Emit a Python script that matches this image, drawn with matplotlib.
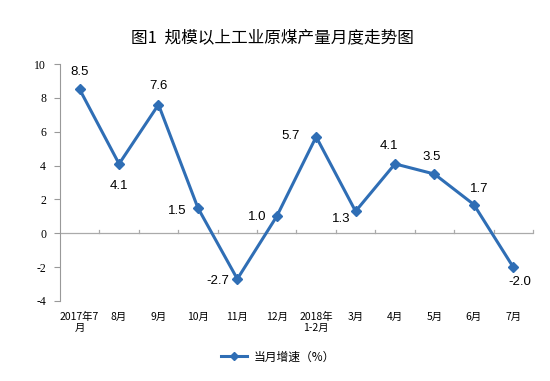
import matplotlib
matplotlib.use('Agg')
import matplotlib.pyplot as plt

plt.rcParams['font.family'] = ['Noto Sans CJK SC', 'DejaVu Sans']

months = ['2017年7\n月', '8月', '9月', '10月', '11月', '12月', '2018年\n1-2月',
          '3月', '4月', '5月', '6月', '7月']
growth = [8.5, 4.1, 7.6, 1.5, -2.7, 1.0, 5.7, 1.3, 4.1, 3.5, 1.7, -2.0]
# label offsets in image pixels (right, down) relative to each point
offsets = [(0, -17), (0, 22), (0, -19), (-21, 3), (-20, 2), (-20, 1),
           (-26, -1), (-14, 8), (-6, -18), (-3, -17), (5, -16), (7, 15)]

blue = '#2F6EB5'
fig = plt.figure(figsize=(5.5, 3.81), dpi=100)
ax = fig.add_axes([0.109, 0.210, 0.860, 0.622])
x = list(range(len(growth)))
ax.plot(x, growth, color=blue, lw=2.2, marker='D', ms=5, label='当月增速（%）')
for xi, v, (dx, dy) in zip(x, growth, offsets):
    ax.annotate('%.1f' % v, (xi, v), xytext=(dx * 0.72, -dy * 0.72),
                textcoords='offset points', ha='center', va='center',
                fontsize=9.5, family='Liberation Sans')

ax.set_xlim(-0.5, len(growth) - 0.5)
ax.set_ylim(-4, 10)
ax.set_yticks(range(-4, 11, 2))
ax.set_yticklabels([str(t) for t in range(-4, 11, 2)], family='Liberation Serif', fontsize=8.5)
ax.set_xticks(x)
ax.set_xticklabels(months, fontsize=7.5, linespacing=1.1)
ax.tick_params(axis='x', length=0, pad=8)
ax.tick_params(axis='y', length=4, color='#999999', width=0.8, pad=6)
for s in ['top', 'right', 'bottom']:
    ax.spines[s].set_visible(False)
ax.spines['left'].set_color('#999999')
ax.axhline(0, color='#aaaaaa', lw=0.9, zorder=0)
for b in [i + 0.5 for i in range(len(growth))]:
    ax.plot([b, b], [0, 0.22], color='#aaaaaa', lw=0.9, zorder=0, clip_on=False)

fig.text(0.495, 0.90, '图1  规模以上工业原煤产量月度走势图', ha='center', va='center',
         fontsize=12)
fig.legend(loc='center', bbox_to_anchor=(0.505, 0.063), frameon=False, fontsize=8.5,
           handlelength=2.2, handletextpad=0.6, markerscale=0.9)
fig.savefig('out.png', dpi=100)
